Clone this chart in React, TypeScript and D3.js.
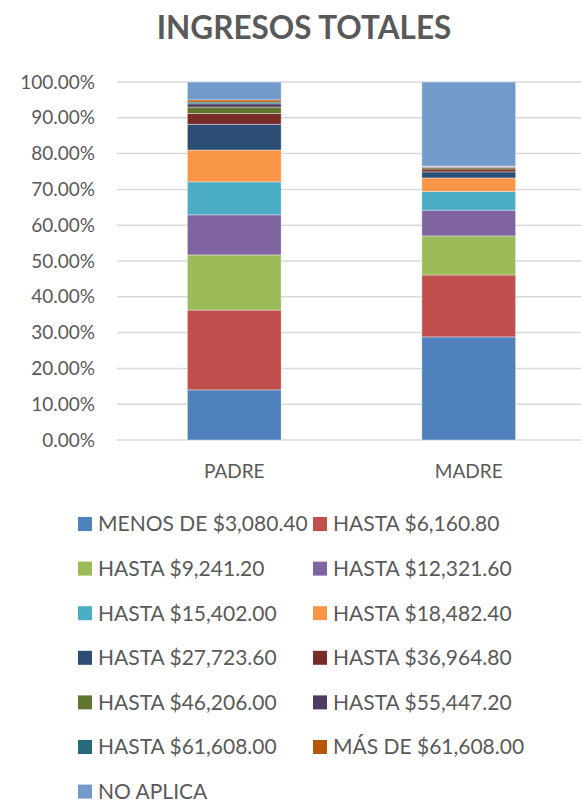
import React, { useEffect, useRef } from "react";
import * as d3 from "d3";

const categories = ["PADRE", "MADRE"];

const seriesNames = [
  "MENOS DE $3,080.40",
  "HASTA $6,160.80",
  "HASTA $9,241.20",
  "HASTA $12,321.60",
  "HASTA $15,402.00",
  "HASTA $18,482.40",
  "HASTA $27,723.60",
  "HASTA $36,964.80",
  "HASTA $46,206.00",
  "HASTA $55,447.20",
  "HASTA $61,608.00",
  "MÁS DE $61,608.00",
  "NO APLICA",
];

const padreValues = [14.0, 22.3, 15.4, 11.2, 9.2, 8.9, 7.2, 3.0, 1.8, 0.9, 0.5, 0.6, 5.0];
const madreValues = [28.8, 17.3, 10.9, 7.2, 5.2, 3.8, 1.7, 0.8, 0.4, 0.2, 0.1, 0.1, 23.5];

const yTicks = [0, 10, 20, 30, 40, 50, 60, 70, 80, 90, 100];

const colors = [
  "#4F81BD",
  "#C0504D",
  "#9BBB59",
  "#8064A2",
  "#4BACC6",
  "#F79646",
  "#2C4D75",
  "#772C2A",
  "#5F7530",
  "#4D3B62",
  "#276A7C",
  "#B65708",
  "#729ACA",
];

const W = 581;
const H = 803;
const FONT = "Lato, 'Open Sans', sans-serif";
const TEXT = "#595959";

const App = () => {
  const ref = useRef<SVGSVGElement>(null);

  useEffect(() => {
    const svg = d3.select(ref.current);
    svg.selectAll("*").remove();

    const rows = categories.map((c, i) => {
      const vals = i === 0 ? padreValues : madreValues;
      const row: any = { cat: c };
      seriesNames.forEach((s, j) => (row[s] = vals[j]));
      return row;
    });

    const stacked = d3.stack().keys(seriesNames)(rows);

    const x = d3
      .scaleBand()
      .domain(categories)
      .range([117, 586])
      .paddingInner(0.6)
      .paddingOuter(0.3);
    const y = d3.scaleLinear().domain([0, 100]).range([440, 82]);

    // title
    svg
      .append("text")
      .attr("x", 304)
      .attr("y", 39)
      .attr("text-anchor", "middle")
      .attr("font-family", FONT)
      .attr("font-weight", "bold")
      .attr("font-size", 31.5)
      .attr("fill", TEXT)
      .text("INGRESOS TOTALES");

    // gridlines
    svg
      .append("g")
      .selectAll("line")
      .data(yTicks)
      .join("line")
      .attr("x1", 117)
      .attr("x2", 586)
      .attr("y1", (d) => y(d))
      .attr("y2", (d) => y(d))
      .attr("stroke", "#d9d9d9")
      .attr("stroke-width", 1.5);

    svg
      .append("g")
      .selectAll("text")
      .data(yTicks)
      .join("text")
      .attr("x", 95)
      .attr("y", (d) => y(d))
      .attr("dy", "0.35em")
      .attr("text-anchor", "end")
      .attr("font-family", FONT)
      .attr("font-size", 19)
      .attr("fill", TEXT)
      .text((d) => d.toFixed(2) + "%");

    // bars
    svg
      .append("g")
      .selectAll("g")
      .data(stacked)
      .join("g")
      .attr("fill", (d, i) => colors[i])
      .selectAll("rect")
      .data((d) => d)
      .join("rect")
      .attr("x", (d: any) => x(d.data.cat)!)
      .attr("width", x.bandwidth())
      .attr("y", (d) => y(d[1]))
      .attr("height", (d) => y(d[0]) - y(d[1]))
      .attr("stroke", "rgba(255,255,255,0.5)")
      .attr("stroke-width", 0.75);

    // category labels
    svg
      .append("g")
      .selectAll("text")
      .data(categories)
      .join("text")
      .attr("x", (d) => x(d)! + x.bandwidth() / 2)
      .attr("y", 478)
      .attr("text-anchor", "middle")
      .attr("font-family", FONT)
      .attr("font-size", 19)
      .attr("fill", TEXT)
      .text((d) => d);

    // legend
    const legend = svg
      .append("g")
      .selectAll("g")
      .data(seriesNames)
      .join("g")
      .attr("transform", (d, i) => {
        const col = i % 2;
        const row = Math.floor(i / 2);
        return `translate(${col === 0 ? 78 : 313},${524 + row * 44.6})`;
      });

    legend
      .append("rect")
      .attr("x", 0)
      .attr("y", -7)
      .attr("width", 14)
      .attr("height", 14)
      .attr("fill", (d, i) => colors[i]);

    legend
      .append("text")
      .attr("x", 20)
      .attr("y", 0)
      .attr("dy", "0.35em")
      .attr("font-family", FONT)
      .attr("font-size", 21)
      .attr("fill", TEXT)
      .text((d) => d);
  }, []);

  return (
    <svg
      ref={ref}
      width={W}
      height={H}
      style={{ position: "absolute", left: 0, top: 0, background: "#fff" }}
    ></svg>
  );
};

export default App;
